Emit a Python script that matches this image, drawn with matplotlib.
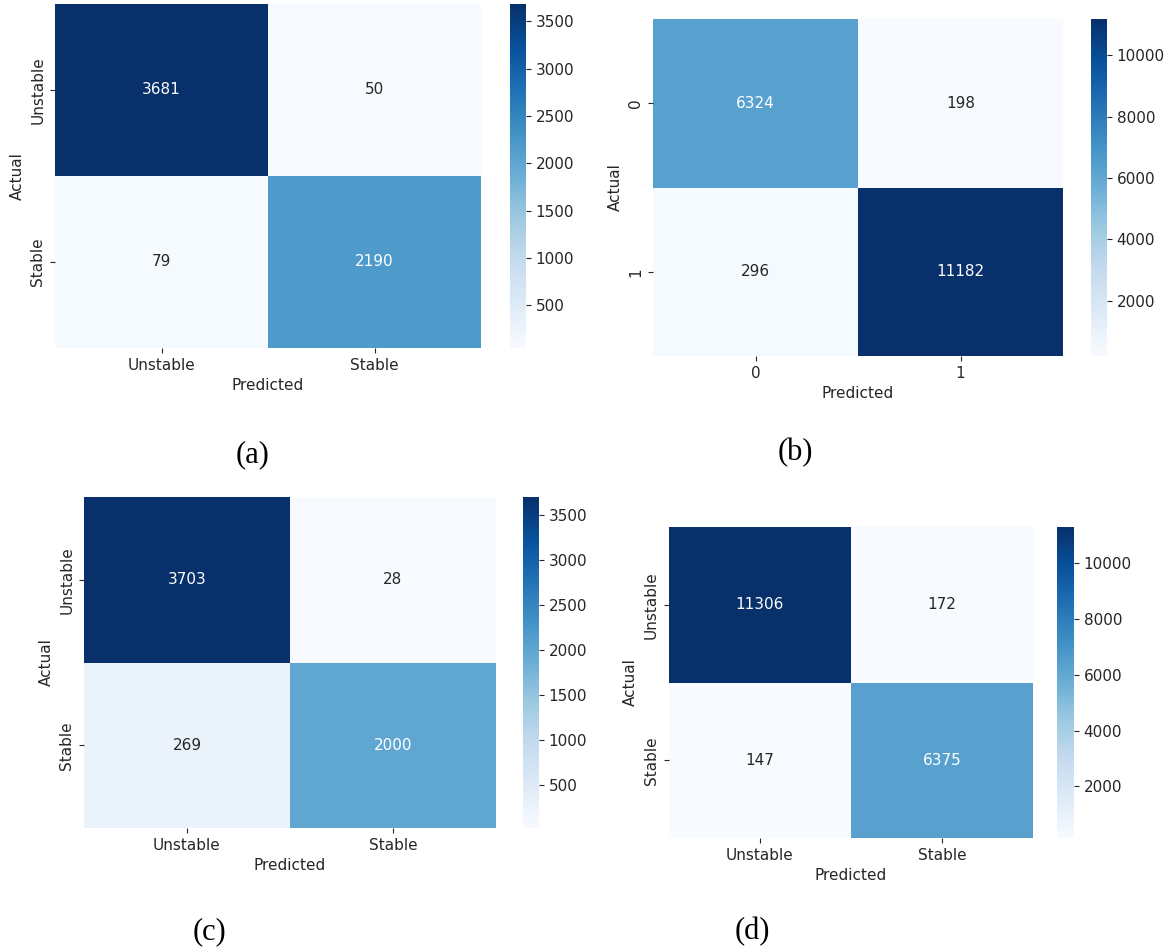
import matplotlib
matplotlib.use("Agg")
import matplotlib.pyplot as plt
import seaborn as sns
import numpy as np

# ---- data ----
labels_a = ["Unstable", "Stable"]
cm_a = [[3681, 50], [79, 2190]]
ticks_a = [500, 1000, 1500, 2000, 2500, 3000, 3500]

labels_b = ["0", "1"]
cm_b = [[6324, 198], [296, 11182]]
ticks_b = [2000, 4000, 6000, 8000, 10000]

labels_c = ["Unstable", "Stable"]
cm_c = [[3703, 28], [269, 2000]]
ticks_c = [500, 1000, 1500, 2000, 2500, 3000, 3500]

labels_d = ["Unstable", "Stable"]
cm_d = [[11306, 172], [147, 6375]]
ticks_d = [2000, 4000, 6000, 8000, 10000]

captions = ["(a)", "(b)", "(c)", "(d)"]

W, H = 1169, 948
fig = plt.figure(figsize=(W / 100, H / 100), dpi=100)
fig.patch.set_facecolor("white")

def rect(x0, y0, x1, y1):
    return [x0 / W, 1 - y1 / H, (x1 - x0) / W, (y1 - y0) / H]

panels = [
    (cm_a, labels_a, ticks_a, (55, 4, 481, 348), (509.5, 4, 526, 348), (253, 455)),
    (cm_b, labels_b, ticks_b, (653, 19, 1063, 356), (1091, 19, 1107, 356), (795, 453)),
    (cm_c, labels_c, ticks_c, (84, 497, 496, 828), (523, 497, 539, 828), (209, 932)),
    (cm_d, labels_d, ticks_d, (668.5, 527, 1033, 838), (1057, 527, 1074, 838), (752, 932)),
]

txt_color = "#262626"
fs = 11

for (cm, labels, cticks, hr, cr, cap), caption in zip(panels, captions):
    ax = fig.add_axes(rect(*hr))
    cax = fig.add_axes(rect(*cr))
    sns.heatmap(np.array(cm), annot=True, fmt="d", cmap="Blues", ax=ax, cbar_ax=cax,
                xticklabels=labels, yticklabels=labels,
                annot_kws={"size": fs},
                cbar_kws={"ticks": cticks})
    ax.set_xlabel("Predicted", fontsize=fs, color=txt_color)
    ax.set_ylabel("Actual", fontsize=fs, color=txt_color)
    ax.tick_params(axis="both", labelsize=fs, colors=txt_color)
    plt.setp(ax.get_yticklabels(), rotation=90, va="center")
    plt.setp(ax.get_xticklabels(), rotation=0)
    cax.tick_params(labelsize=fs, colors=txt_color)
    for s in cax.spines.values():
        s.set_visible(False)
    fig.text(cap[0] / W, 1 - cap[1] / H, caption, ha="center", va="center",
             fontsize=22, family="Liberation Serif", color="black")

fig.savefig("out.png", dpi=100, facecolor="white")
